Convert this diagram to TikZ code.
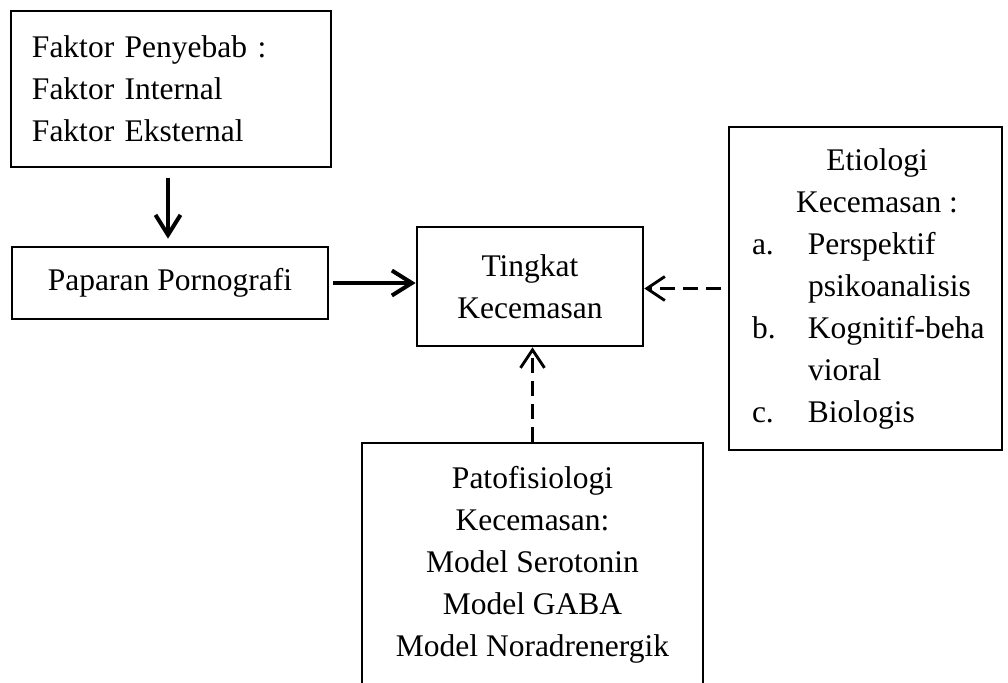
\documentclass[tikz,border=0pt]{standalone}
\usepackage{fontspec}
\setmainfont{Liberation Serif}
\usepackage{array}
\usetikzlibrary{arrows.meta}
\begin{document}
\begin{tikzpicture}[x=0.5pt,y=-0.5pt,
  box/.style={draw,line width=1.35pt,inner sep=0pt,font={\fontsize{15.75}{21}\selectfont}},
  solidarrow/.style={line width=2pt,-{Straight Barb[length=10pt,width=12.5pt]}},
  dasharrow/.style={line width=1.4pt,dash pattern=on 7.5pt off 4pt,-{Straight Barb[length=9pt,width=12pt]}}]
\useasboundingbox (0,0) rectangle (1008,682);
\node[box,text width=139pt,inner xsep=10.5pt,minimum height=78pt,align=left] (fp) at (171,89)
  {Faktor Penyebab :\\Faktor Internal\\Faktor Eksternal};
\node[box,minimum width=158pt,minimum height=36pt] (pp) at (170,283) {Paparan Pornografi};
\node[box,minimum width=113pt,minimum height=59.5pt,align=center] (tk) at (530,286.5)
  {Tingkat\\Kecemasan};
\node[box,minimum width=170.5pt,minimum height=121.5pt,align=center] (pk) at (532.5,564.5)
  {Patofisiologi\\Kecemasan:\\Model Serotonin\\Model GABA\\Model Noradrenergik};
\node[box,minimum width=136.5pt,minimum height=161.5pt] (et) at (865.5,288.5)
  {\begin{tabular}{@{\hspace{11.5pt}}p{28pt}@{}p{94pt}@{\hspace{3pt}}}
   \multicolumn{2}{@{\hspace{11.5pt}}c@{}}{Etiologi}\\
   \multicolumn{2}{@{\hspace{11.5pt}}c@{}}{Kecemasan :}\\
   a. & Perspektif\\
      & psikoanalisis\\
   b. & Kognitif-beha\\
      & vioral\\
   c. & Biologis
   \end{tabular}};
\draw[solidarrow,shorten <=5pt,shorten >=3.5pt] ([xshift=-1.5pt]fp.south) -- ([xshift=-1.5pt]fp.south |- pp.north);
\draw[solidarrow,shorten <=2pt] (pp.east) -- (pp.east -| tk.west);
\draw[dasharrow,shorten <=3.5pt] (et.west) -- (et.west -| tk.east);
\draw[dasharrow] (pk.north) -- (pk.north |- tk.south);
\end{tikzpicture}
\end{document}
